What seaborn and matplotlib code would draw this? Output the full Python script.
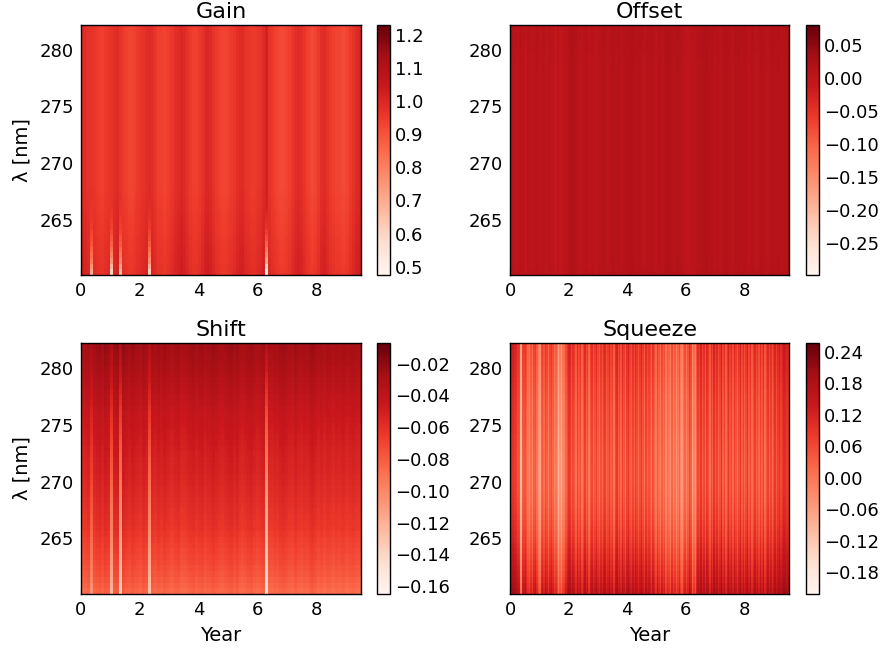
import numpy as np
import matplotlib
matplotlib.use("Agg")
import matplotlib.pyplot as plt
from matplotlib.ticker import FuncFormatter
import seaborn as sns

YEAR_MAX = 9.52
LAM_TOP = 282.2
LAM_BOTTOM = 260.1

year_ticks = [0, 2, 4, 6, 8]
lam_ticks = [280, 275, 270, 265]
titles = ["Gain", "Offset", "Shift", "Squeeze"]

# column profiles, read along the middle of each panel (left to right)
gain_cols = [
    .97, .96, .95, .95, .94, .93, .92, .92, .93, .94, .95, .96, .97, .95, .93, .92,
    .91, .91, .92, .93, .94, .95, .96, .97, .96, .94, .92, .92, .91, .92, .93, .94,
    .96, .97, .98, .97, .95, .93, .92, .92, .93, .95, .97, .98, .97, .95, .93, .92,
    .91, .91, .92, .93, .94, .96, .97, .97, .95, .94, .93, .93, .94, .95, .97, 1.00,
    .95, .93, .92, .91, .90, .90, .91, .92, .94, .96, .97, .96, .94, .92, .91, .90,
    .91, .93, .96, .97, .95, .93, .92, .91, .91, .90, .90, .91, .93, .95, .97, .98,
]
offset_cols = [
    .012, .006, .002, .009, .004, -.002, .008, .002, .005, .009, .003, .008, .001, .006, .003, -.006,
    .006, -.003, .003, .006, .012, .016, .012, .006, .003, .008, .010, .002, .008, .001, .006, .010,
    .012, .006, .010, .014, .008, .012, .006, .010, .012, .016, .014, .010, .012, .008, .005, .012,
    .014, .010, .006, .012, .008, .014, .016, .012, .010, .014, .012, .007, .002, .000, .004, .006,
    .010, .013, .015, .017, .012, .014, .008, .010, .006, .012, .014, .010, .006, .012, .016, .012,
    .014, .010, .006, .012, .005, .008, .014, .010, .006, .012, .016, .012, .014, .010, .012, .016,
]
shift_cols = [
    -.004, -.002, .000, .000, .000, .002, .003, .000, .004, .002, .001, .003, .004, .003, .005, .002,
    .000, .003, .001, .000, -.002, .002, .000, .000, .000, -.002, .001, -.001, .002, .000, -.002, -.003,
    .000, .001, -.003, -.003, -.001, .001, .002, -.001, .001, .002, -.002, .000, .001, .003, .001, -.001,
    -.002, .000, .002, .003, .000, .002, -.002, -.003, -.001, .001, .002, -.001, -.003, -.001, .001, .000,
    -.003, -.003, -.001, -.002, .001, .002, .000, -.002, -.003, .001, -.002, -.003, -.001, -.002, .001, .003,
    .000, -.003, -.001, -.004, -.001, -.002, -.004, -.002, -.003, -.001, -.002, -.004, -.002, -.001, -.003, -.004,
]
squeeze_cols = [
    .10, .09, .09, .08, .07, .05, .04, -.10, .03, .04, .05, .02, -.01, -.03, .01, -.02,
    .03, .04, .00, -.05, -.07, .02, .04, .01, .05, .03, -.01, .03, .05, .02, -.02, .00,
    -.04, -.09, -.05, -.08, -.03, -.02, .02, .05, .08, .07, .03, .06, .04, .01, .06, .03,
    .05, .00, .03, .07, .02, .05, -.01, .04, .06, .02, .04, .07, .03, .01, .05, .02,
    .06, .07, .02, .04, .07, .03, .05, .00, .06, .08, .03, .05, .02, .07, .04, .01,
    .06, .08, .04, .02, .06, .03, .07, .05, .02, .05, .08, .04, .01, .06, .03, .05,
    .03, .00, .05, .02, -.01, .04, .01, -.02, .03, .00, .02, -.03, .01, -.01, -.04, .02,
    -.02, .00, -.04, -.01, .02, -.03, -.05, -.01, .02, -.02, .01, .06, .03, -.06, -.02, -.05,
    .02, .06, .04, .08, .03, .06, .02, .07, .05, .01, .06, .03, .08, .04, .07, .02,
    .05, .09, .03, .06, .01, .05, .08, .04, .06, .02, .07, .04, .01, .05, .08, .03,
    .06, .02, .05, .08, .03, .06, .01, .04, .07, .03, .05, .02, .06, .03, .07, .01,
    .04, .07, .03, .06, .02, .05, .08, .04, .07, .09, .06, .08, .10, .09, .08, .07,
]

# change with wavelength, one value per half nm from 282 down to 260.5
gain_rows = [
    .02, .02, .02, .02, .02, .02, .02, .02, .02, .02, .02,
    .02, .02, .02, .02, .02, .02, .02, .02, .02, .02, .02,
    .02, .02, .02, .02, .02, .02, .02, .022, .024, .026, .028, .030,
    .032, .034, .036, .038, .040, .042, .044, .046, .048, .050,
]
offset_rows = [
    .004, .0035, .003, .0025, .002, .0015, .001, .0005, .000, .000, .000,
    .000, .000, .000, .000, .000, .000, .000, .000, .000, .000, .000,
    .000, .000, .000, .000, .000, .000, .000, .000, .000, .000, .000, .000,
    .000, .000, .000, .000, .000, .000, .000, .0005, .001, .002,
]
shift_rows = [
    -.026, -.027, -.028, -.0295, -.031, -.0325, -.034, -.0355, -.037, -.0385, -.040,
    -.0415, -.043, -.044, -.045, -.046, -.047, -.048, -.049, -.050, -.051, -.0515,
    -.052, -.053, -.054, -.055, -.056, -.057, -.058, -.059, -.060, -.061, -.062, -.064,
    -.066, -.0675, -.069, -.0705, -.072, -.074, -.076, -.0785, -.081, -.084,
]
squeeze_rows = [
    .040, .0375, .035, .0325, .030, .0275, .025, .0225, .020, .0175, .015,
    .0135, .012, .011, .010, .008, .006, .0045, .003, .002, .001, .0005,
    .000, .000, .000, .0015, .003, .0055, .008, .0115, .015, .020, .025, .030,
    .035, .0425, .050, .0575, .065, .0725, .080, .090, .100, .110,
]

# narrow bright lines, column index and depth at the bottom edge
gain_dip_cols = {3: .30, 10: .40, 13: .35, 23: .40, 63: .55}
gain_dip_rows = [
    0, 0, 0, 0, 0, 0, 0, 0, 0, 0, 0,
    0, 0, 0, 0, 0, 0, 0, 0, 0, 0, 0,
    0, 0, 0, 0, 0, 0, 0, 0, .01, .02, .04, .06,
    .09, .12, .17, .23, .30, .40, .50, .62, .80, 1,
]
shift_line_cols = {3: .022, 10: .040, 13: .055, 23: .045, 63: .065}
shift_line_rows = [
    .15, .18, .2, .22, .25, .28, .3, .33, .35, .38, .4,
    .43, .45, .48, .5, .52, .55, .58, .6, .62, .65, .68,
    .7, .72, .75, .77, .8, .82, .85, .86, .88, .89, .9, .91,
    .92, .93, .94, .95, .96, .97, .98, .99, 1, 1,
]

color_ranges = [(0.475, 1.23), (-0.299, 0.081), (-0.165, -0.007), (-0.222, 0.257)]
bar_ticks = [
    [0.5, 0.6, 0.7, 0.8, 0.9, 1.0, 1.1, 1.2],
    [-0.25, -0.20, -0.15, -0.10, -0.05, 0.00, 0.05],
    [-0.16, -0.14, -0.12, -0.10, -0.08, -0.06, -0.04, -0.02],
    [-0.18, -0.12, -0.06, 0.00, 0.06, 0.12, 0.18, 0.24],
]
bar_formats = ["%.1f", "%.2f", "%.2f", "%.2f"]


def with_lines(rows, cols, line_cols, line_rows):
    grid = np.add.outer(np.array(rows), np.array(cols))
    for col, depth in line_cols.items():
        grid[:, col] -= depth * np.array(line_rows)
    return grid


def bar_formatter(fmt):
    return FuncFormatter(lambda v, pos: (fmt % v).replace("-", "\u2212"))


grids = [
    with_lines(gain_rows, gain_cols, gain_dip_cols, gain_dip_rows),
    np.add.outer(np.array(offset_rows), np.array(offset_cols)),
    with_lines(shift_rows, shift_cols, shift_line_cols, shift_line_rows),
    np.add.outer(np.array(squeeze_rows), np.array(squeeze_cols)),
]

W, H = 883, 650
panel_x = [(81, 361, 377, 389.5), (510, 789, 806, 818.5)]
panel_y = [(25, 275), (343, 594)]

sns.set_style("white")
plt.rcParams["font.family"] = ["DejaVu Sans"]
fig = plt.figure(figsize=(W / 100, H / 100), dpi=100)

for i, grid in enumerate(grids):
    x0, x1, c0, c1 = panel_x[i % 2]
    y0, y1 = panel_y[i // 2]
    ax = fig.add_axes([x0 / W, 1 - y1 / H, (x1 - x0) / W, (y1 - y0) / H])
    cax = fig.add_axes([c0 / W, 1 - y1 / H, (c1 - c0) / W, (y1 - y0) / H])
    vmin, vmax = color_ranges[i]
    sns.heatmap(grid, ax=ax, cbar_ax=cax, cmap="Reds", vmin=vmin, vmax=vmax,
                xticklabels=False, yticklabels=False,
                cbar_kws={"ticks": bar_ticks[i], "format": bar_formatter(bar_formats[i])})

    n_rows, n_cols = grid.shape
    ax.set_xticks([y / YEAR_MAX * n_cols for y in year_ticks])
    ax.set_xticklabels([str(y) for y in year_ticks])
    ax.set_yticks([(LAM_TOP - l) / (LAM_TOP - LAM_BOTTOM) * n_rows for l in lam_ticks])
    ax.set_yticklabels([str(l) for l in lam_ticks], rotation=0)
    ax.tick_params(direction="in", length=4, width=0.8, top=True, right=True,
                   bottom=True, left=True, labelsize=13, colors="black", pad=5)
    for spine in ax.spines.values():
        spine.set_visible(True)
        spine.set_linewidth(1.0)
        spine.set_color("black")
    ax.set_title(titles[i], fontsize=16, pad=5, color="black")
    if i % 2 == 0:
        ax.set_ylabel("\u03bb [nm]", fontsize=14, labelpad=6, color="black")
    if i // 2 == 1:
        ax.set_xlabel("Year", fontsize=14, labelpad=5, color="black")

    cbar = ax.collections[0].colorbar
    cbar.outline.set_visible(True)
    cbar.outline.set_linewidth(1.0)
    cbar.outline.set_edgecolor("black")
    cax.tick_params(direction="in", length=4, width=0.8, right=True, left=False,
                    labelsize=13, colors="black", pad=4)

fig.savefig("out.png", dpi=100)
